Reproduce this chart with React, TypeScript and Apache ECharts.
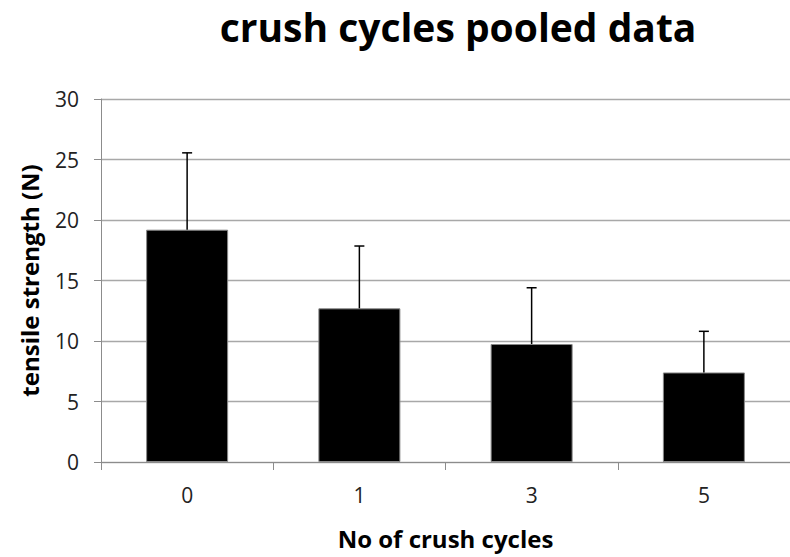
import React, { useEffect, useRef } from "react";
import * as echarts from "echarts";

const categories = ["0", "1", "3", "5"];
const means = [19.2, 12.7, 9.75, 7.4];
const upperErrors = [6.35, 5.15, 4.65, 3.4];
const yTicks = { min: 0, max: 30, interval: 5 };

const FONT = "'Open Sans', 'Noto Sans', sans-serif";

export default function App() {
  const ref = useRef<HTMLDivElement>(null);
  useEffect(() => {
    if (!ref.current) return;
    const chart = echarts.init(ref.current, undefined, { renderer: "svg" });
    const errData = categories.map((c, i) => [i, means[i], upperErrors[i]]);
    chart.setOption({
      animation: false,
      backgroundColor: "#fff",
      title: {
        text: "crush cycles pooled data",
        left: 453,
        top: 2,
        textAlign: "center",
        textStyle: { fontFamily: FONT, fontSize: 39, fontWeight: "bold", color: "#000" },
      },
      grid: { left: 101, right: -9, top: 99, bottom: 95 },
      xAxis: {
        type: "category",
        data: categories,
        name: "No of crush cycles",
        nameLocation: "middle",
        nameGap: 64,
        nameTextStyle: { fontFamily: FONT, fontSize: 24, fontWeight: "bold", color: "#000" },
        axisLine: { lineStyle: { color: "#8c8c8c", width: 1 } },
        axisTick: { show: true, length: 8, lineStyle: { color: "#8c8c8c" } },
        axisLabel: { fontFamily: FONT, fontSize: 21, color: "#222", margin: 22 },
      },
      yAxis: {
        type: "value",
        min: yTicks.min,
        max: yTicks.max,
        interval: yTicks.interval,
        name: "tensile strength (N)",
        nameLocation: "middle",
        nameGap: 60,
        nameRotate: 90,
        nameTextStyle: { fontFamily: FONT, fontSize: 24, fontWeight: "bold", color: "#000" },
        axisLine: { show: true, lineStyle: { color: "#8c8c8c", width: 1 } },
        axisTick: { show: true, length: 7, lineStyle: { color: "#8c8c8c" } },
        axisLabel: { fontFamily: FONT, fontSize: 21, color: "#222", margin: 22 },
        splitLine: { lineStyle: { color: "#a8a8a8", width: 1.3 } },
      },
      series: [
        {
          type: "bar",
          data: means,
          barWidth: 82,
          itemStyle: { color: "#000", borderColor: "#888", borderWidth: 1 },
        },
        {
          type: "custom",
          data: errData,
          z: 5,
          renderItem: (params: any, api: any) => {
            const x = api.value(0);
            const m = api.value(1);
            const e = api.value(2);
            const base = api.coord([x, m]);
            const top = api.coord([x, m + e]);
            return {
              type: "group",
              children: [
                {
                  type: "line",
                  shape: { x1: base[0], y1: base[1], x2: top[0], y2: top[1] },
                  style: { stroke: "#000", lineWidth: 1.5 },
                },
                {
                  type: "line",
                  shape: { x1: top[0] - 5, y1: top[1], x2: top[0] + 5, y2: top[1] },
                  style: { stroke: "#000", lineWidth: 1.5 },
                },
              ],
            };
          },
        },
      ],
    });
    return () => chart.dispose();
  }, []);
  return (
    <div
      ref={ref}
      style={{ position: "absolute", left: 0, top: 0, width: 790, height: 557 }}
    />
  );
}
